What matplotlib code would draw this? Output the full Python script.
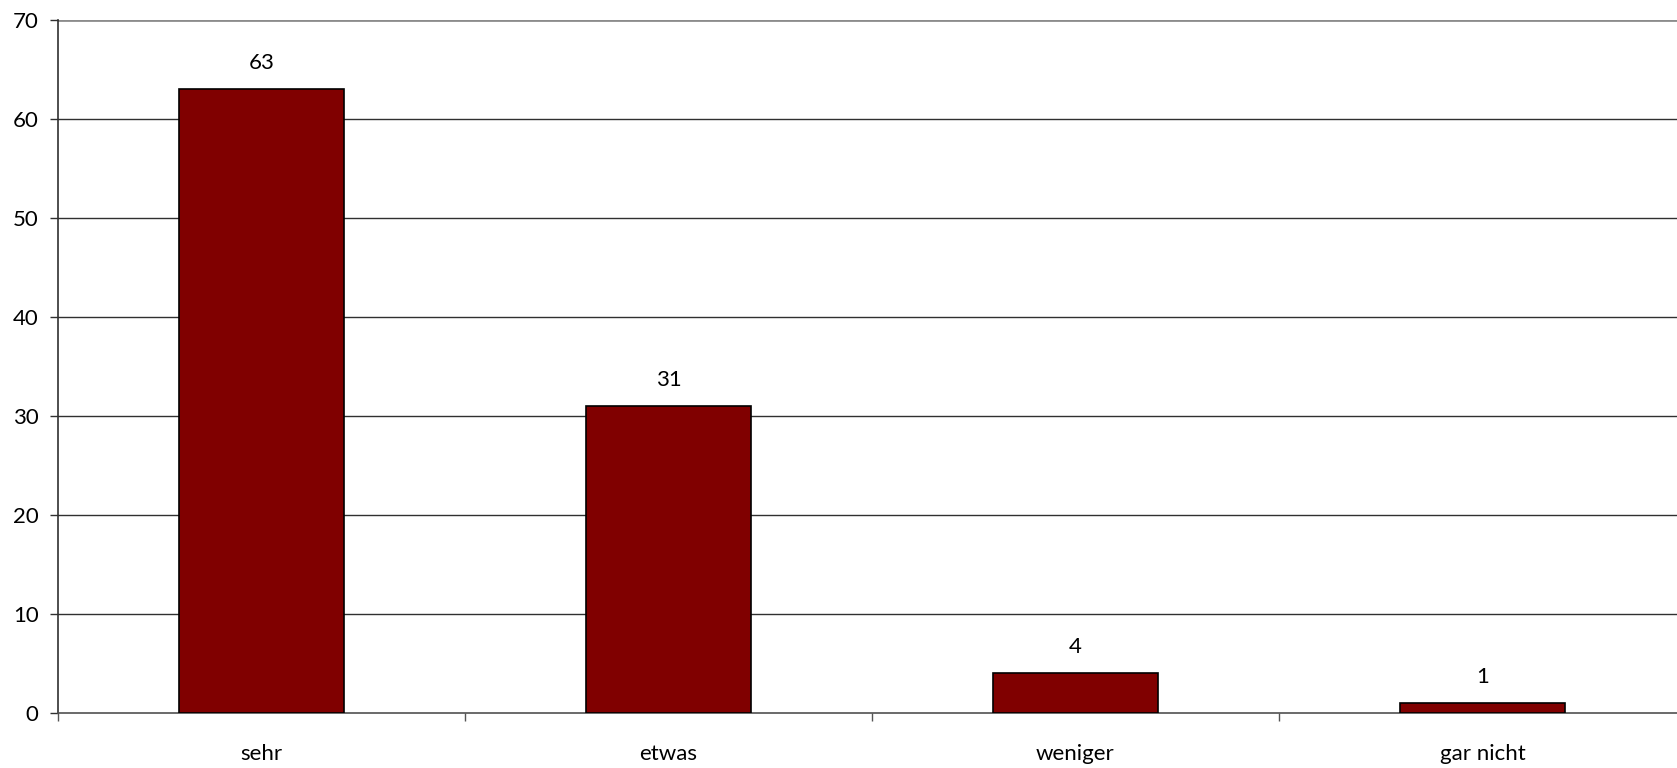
import matplotlib
matplotlib.use("Agg")
import matplotlib.pyplot as plt

kategorien = ["sehr", "etwas", "weniger", "gar nicht"]
werte = [63, 31, 4, 1]
y_ticks = [0, 10, 20, 30, 40, 50, 60, 70]

plt.rcParams['font.family'] = ['Lato', 'DejaVu Sans']

fig = plt.figure(figsize=(16.77, 7.68), dpi=100)
# rechter Rand liegt etwas ausserhalb des Bildes (wie im Original abgeschnitten)
ax = fig.add_axes([58 / 1677, 55 / 768, 1628 / 1677, 693 / 768])

x = range(len(kategorien))
ax.bar(x, werte, width=0.405, color="#800000", edgecolor="black", linewidth=1.2, zorder=3)

for i, w in zip(x, werte):
    ax.annotate(str(w), (i, w), xytext=(0, 19), textcoords="offset points",
                ha="center", va="center", fontsize=16, color="black")

ax.set_xlim(-0.5, len(kategorien) - 0.5)
ax.set_ylim(0, 70)
ax.set_yticks(y_ticks)
for t in y_ticks[1:-1]:
    ax.axhline(t, color="#303030", linewidth=1.0, zorder=1)
ax.axhline(70, color="#8c8c8c", linewidth=2.0, zorder=1)

ax.set_xticks(list(x))
ax.set_xticklabels(kategorien, fontsize=16)
ax.set_xticks([i - 0.5 for i in range(len(kategorien) + 1)], minor=True)
ax.tick_params(axis="x", which="major", length=0, pad=22)
ax.tick_params(axis="x", which="minor", length=6, width=1, color="#555555", direction="out")
ax.tick_params(axis="y", length=6, width=1, color="#303030", pad=8, labelsize=16)

for s in ["top", "right"]:
    ax.spines[s].set_visible(False)
ax.spines["left"].set_color("#303030")
ax.spines["bottom"].set_color("#505050")
ax.spines["left"].set_linewidth(1.2)
ax.spines["bottom"].set_linewidth(1.2)

fig.savefig("out.png", dpi=100)
